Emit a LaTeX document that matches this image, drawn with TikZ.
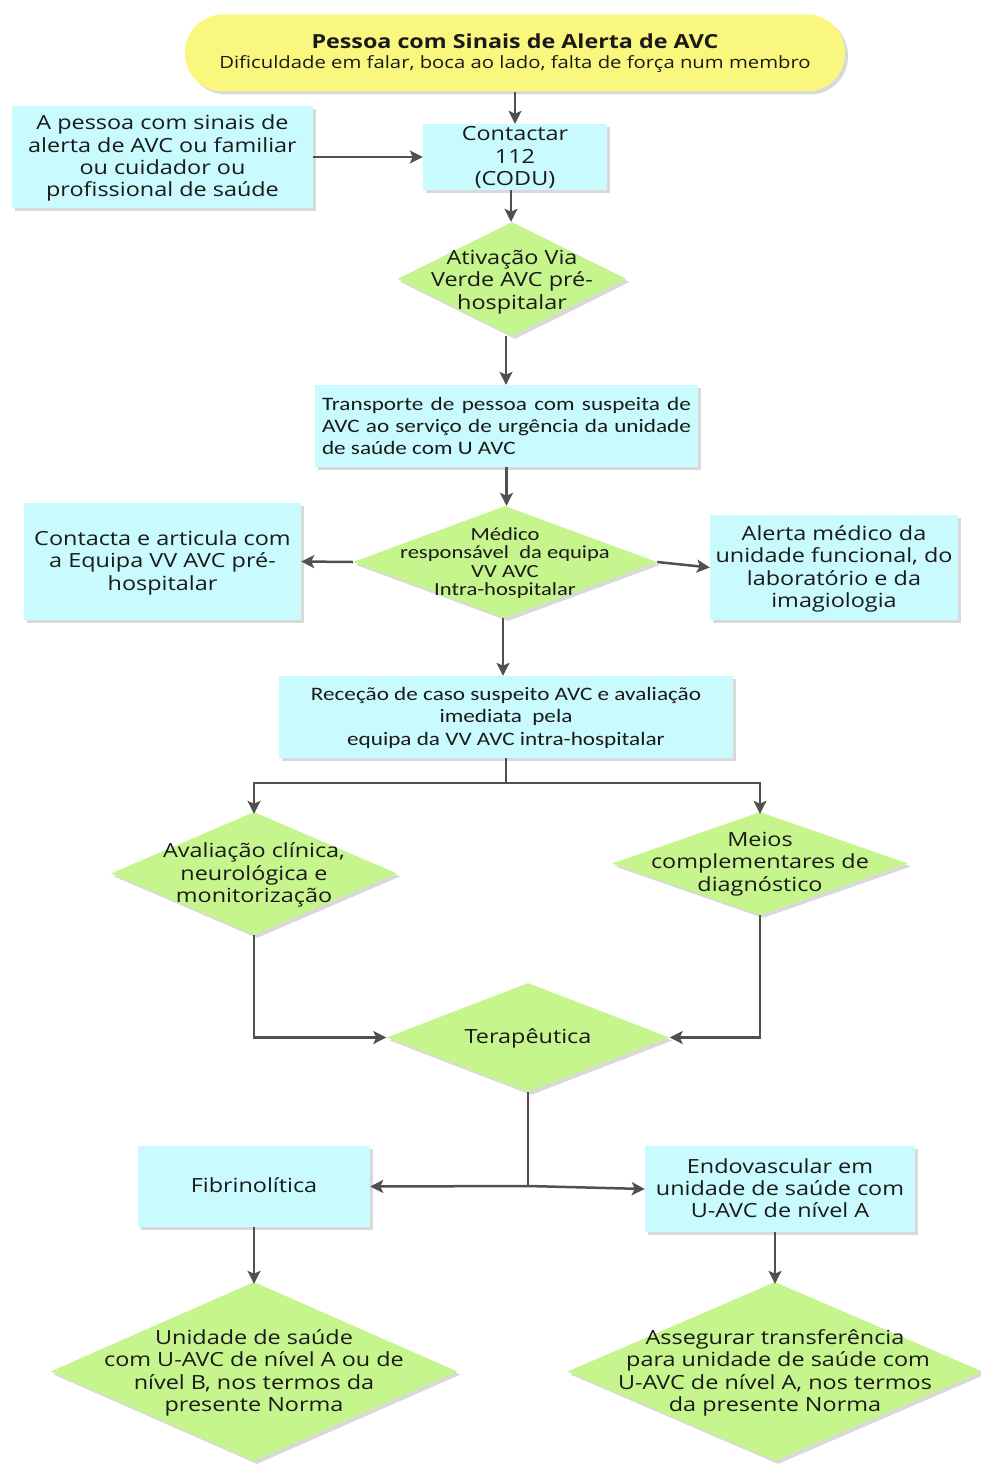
\documentclass[tikz,border=0pt]{standalone}
\usepackage{fontspec}
\setmainfont{Open Sans}[FakeStretch=1.2]
\newfontfamily\calib{Carlito}[FakeStretch=1.22]
\usetikzlibrary{shapes.geometric,arrows.meta,shadows}
\definecolor{yel}{HTML}{FAF77E}
\definecolor{cya}{HTML}{C8FAFE}
\definecolor{grn}{HTML}{C6F58D}
\definecolor{arr}{HTML}{505050}
\definecolor{txt}{HTML}{1A1A1A}
\tikzset{
  shad/.style={drop shadow={shadow xshift=3pt,shadow yshift=-3pt,fill=black!25,opacity=0.6}},
  cboxbase/.style={rectangle,fill=cya,shad,inner sep=0pt,align=center,text=txt},
  cbox/.style={cboxbase,text depth=2pt},
  dia/.style={diamond,fill=grn,shad,inner sep=0pt},
  dtxt/.style={align=center,text=txt,inner sep=0pt},
  con/.style={draw=arr,line width=2.5pt,-{Stealth[length=13pt,width=13pt,inset=3pt]}},
  conn/.style={draw=arr,line width=2.5pt},
  fs/.style={font=\fontsize{19.5}{22.3}\selectfont},
  fc/.style={font=\calib\fontsize{19}{22.4}\selectfont},
}
\begin{document}
\begin{tikzpicture}[x=1pt,y=-1pt]
\useasboundingbox (0,0) rectangle (981,1477);
% top
\node[rectangle,rounded corners=38pt,fill=yel,shad,minimum width=660pt,minimum height=77pt,inner sep=0pt,align=center,text=txt,font=\fontsize{16.9}{20.5}\selectfont] (top) at (515,53)
  {{\fontsize{19.4}{20.5}\selectfont\bfseries Pessoa com Sinais de Alerta de AVC}\\Dificuldade em falar, boca ao lado, falta de força num membro};
\node[cbox,fs,minimum width=301pt,minimum height=102pt] (pessoa) at (162.5,157)
  {A pessoa com sinais de\\alerta de AVC ou familiar\\ou cuidador ou\\profissional de saúde};
\node[cbox,fs,minimum width=184pt,minimum height=66pt] (codu) at (515,157)
  {Contactar\\112\\(CODU)};
% diamond 1
\node[dia,minimum width=229pt,minimum height=114pt] (d1) at (512,279) {};
\node[dtxt,fs] (d1t) at (512,282) {Ativação Via\\Verde AVC pré-\\hospitalar};
% transport
\node[cboxbase,minimum width=383pt,minimum height=82pt] (transp) at (506.5,426)
  {\begin{minipage}{369pt}\calib\fontsize{19}{22.3}\selectfont
   \makebox[369pt][s]{Transporte de pessoa com suspeita de}\\
   \makebox[369pt][s]{AVC ao serviço de urgência da unidade}\\
   de saúde com U AVC\end{minipage}};
% medico
\node[dia,minimum width=304pt,minimum height=112pt] (med) at (505,562) {};
\node[dtxt,font=\calib\fontsize{18.5}{18.5}\selectfont] (medt) at (505,563) {Médico\\responsável\ \ da equipa\\VV AVC\\Intra-hospitalar};
\node[cbox,fs,minimum width=277pt,minimum height=117pt] (contacta) at (162.5,561.5)
  {Contacta e articula com\\a Equipa VV AVC pré-\\hospitalar};
\node[cbox,fs,minimum width=248pt,minimum height=105pt] (alerta) at (834,567.5)
  {Alerta médico da\\unidade funcional, do\\laboratório e da\\imagiologia};
% recepcao
\node[cbox,fc,minimum width=454pt,minimum height=82pt] (recep) at (506,717)
  {Receção de caso suspeito AVC e avaliação\\imediata\ \ pela\\equipa da VV AVC intra-hospitalar};
% two diamonds
\node[dia,minimum width=286pt,minimum height=123pt] (aval) at (254,873.5) {};
\node[dtxt,fs] (avalt) at (254,875) {Avaliação clínica,\\neurológica e\\monitorização};
\node[dia,minimum width=296pt,minimum height=103pt] (meios) at (760,863.5) {};
\node[dtxt,fs] (meiost) at (760,864) {Meios\\complementares de\\diagnóstico};
% terapeutica
\node[dia,minimum width=283pt,minimum height=109pt] (tera) at (528,1037.5) {};
\node[dtxt,fs] (terat) at (528,1038) {Terapêutica};
% fib / endo
\node[cbox,fs,minimum width=232pt,minimum height=81pt] (fib) at (254,1186.5) {Fibrinolítica};
\node[cbox,fs,minimum width=270pt,minimum height=86pt] (endo) at (780,1189)
  {Endovascular em\\unidade de saúde com\\U-AVC de nível A};
% bottom diamonds
\node[dia,minimum width=407pt,minimum height=179pt] (uni) at (254,1371.5) {};
\node[dtxt,fs] (unit) at (254,1373) {Unidade de saúde\\com U-AVC de nível A ou de\\nível B, nos termos da\\presente Norma};
\node[dia,minimum width=415pt,minimum height=179pt] (ass) at (775,1371.5) {};
\node[dtxt,fs] (asst) at (775,1373) {Assegurar transferência\\\ para unidade de saúde com\\U-AVC de nível A, nos termos\\da presente Norma};
% coordinates
\coordinate (b1) at (506,783);
\coordinate (b2) at (528,1186);
% connectors
\draw[con] (top.south -| codu.north) -- (codu.north);
\draw[con] (pessoa.east) -- (codu.west);
\draw[con] ([xshift=-4pt]codu.south) -- ([xshift=-4pt]codu.south |- d1.north);
\draw[con] ([xshift=-6pt]d1.south) -- ([xshift=-6pt]d1.south |- transp.north);
\draw[con] (transp.south) -- (transp.south |- med.north);
\draw[con] (med.west) -- (contacta.east);
\draw[con] (med.east) -- (alerta.west);
\draw[con] ([xshift=-2pt]med.south) -- ([xshift=-2pt]med.south |- recep.north);
\draw[conn] (recep.south) -- (b1);
\draw[con] (b1) -| ([yshift=-2pt]aval.north);
\draw[con] (b1) -| ([yshift=-2pt]meios.north);
\draw[con] (aval.south) |- (tera.west);
\draw[con] (meios.south) |- (tera.east);
\draw[conn] (tera.south) -- (b2);
\draw[con] (b2) -- (fib.east);
\draw[con] (b2) -- (endo.west);
\draw[con] (fib.south) -- ([yshift=-2pt]uni.north);
\draw[con] (endo.south -| ass.north) -- ([yshift=-2pt]ass.north);
\end{tikzpicture}
\end{document}
